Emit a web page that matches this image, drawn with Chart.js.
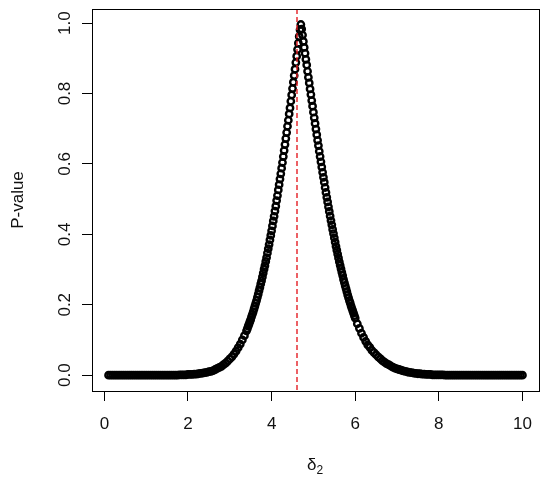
<!DOCTYPE html>
<html>
<head>
  <title>P-value vs delta 2</title>
  <script src="https://cdn.jsdelivr.net/npm/chart.js@4.4.2/dist/chart.umd.min.js"></script>
  <style>
    body { margin: 0; background: #fff; }
    canvas { display: block; }
  </style>
</head>
<body>
<canvas id="pChart" width="550" height="486"></canvas>
<script>
// delta_2 grid and the p-value at each point
const deltaValues = [
  0.10,0.15,0.20,0.25,0.30,0.35,0.40,0.45,0.50,0.55,
  0.60,0.65,0.70,0.75,0.80,0.85,0.90,0.95,1.00,1.05,
  1.10,1.15,1.20,1.25,1.30,1.35,1.40,1.45,1.50,1.55,
  1.60,1.65,1.70,1.75,1.80,1.85,1.90,1.95,2.00,2.05,
  2.10,2.15,2.20,2.25,2.30,2.35,2.40,2.45,2.50,2.55,
  2.60,2.65,2.70,2.75,2.80,2.85,2.90,2.95,3.00,3.05,
  3.10,3.15,3.20,3.25,3.30,3.35,
  3.40,3.42,3.44,3.46,3.48,3.50,3.52,3.54,3.56,3.58,
  3.60,3.62,3.64,3.66,3.68,3.70,3.72,3.74,3.76,3.78,
  3.80,3.82,3.84,3.86,3.88,3.90,3.92,3.94,3.96,3.98,
  4.00,4.02,4.04,4.06,4.08,4.10,4.12,4.14,4.16,4.18,
  4.20,4.22,4.24,4.26,4.28,4.30,4.32,4.34,4.36,4.38,
  4.40,4.42,4.44,4.46,4.48,4.50,4.52,4.54,4.56,4.58,
  4.60,4.62,4.64,4.66,4.68,4.70,4.72,4.74,4.76,4.78,
  4.80,4.82,4.84,4.86,4.88,4.90,4.92,4.94,4.96,4.98,
  5.00,5.02,5.04,5.06,5.08,5.10,5.12,5.14,5.16,5.18,
  5.20,5.22,5.24,5.26,5.28,5.30,5.32,5.34,5.36,5.38,
  5.40,5.42,5.44,5.46,5.48,5.50,5.52,5.54,5.56,5.58,
  5.60,5.62,5.64,5.66,5.68,5.70,5.72,5.74,5.76,5.78,
  5.80,5.82,5.84,5.86,5.88,5.90,5.92,5.94,5.96,5.98,
  6.00,
  6.05,6.10,6.15,6.20,6.25,6.30,6.35,6.40,6.45,6.50,
  6.55,6.60,6.65,6.70,6.75,6.80,6.85,6.90,6.95,7.00,
  7.05,7.10,7.15,7.20,7.25,7.30,7.35,7.40,7.45,7.50,
  7.55,7.60,7.65,7.70,7.75,7.80,7.85,7.90,7.95,8.00,
  8.05,8.10,8.15,8.20,8.25,8.30,8.35,8.40,8.45,8.50,
  8.55,8.60,8.65,8.70,8.75,8.80,8.85,8.90,8.95,9.00,
  9.05,9.10,9.15,9.20,9.25,9.30,9.35,9.40,9.45,9.50,
  9.55,9.60,9.65,9.70,9.75,9.80,9.85,9.90,9.95,10.00
];
const pValues = [
  0,0,0,0,0,0,0,0,0,0,
  0,0,0,0,0,0,0,0,0,0,
  0,0,0,0,0,0,0,0,0,0,
  0,0,0,0,0.001,0.001,0.001,0.001,0.002,0.002,
  0.002,0.003,0.003,0.004,0.005,0.006,0.007,0.008,0.010,0.011,
  0.013,0.016,0.019,0.022,0.025,0.030,0.034,0.040,0.046,0.052,
  0.060,0.068,0.078,0.088,0.100,0.112,
  0.126,0.132,0.139,0.145,0.152,0.158,0.166,0.173,0.180,0.188,
  0.196,0.204,0.212,0.221,0.230,0.240,0.249,0.259,0.268,0.279,
  0.290,0.301,0.311,0.323,0.334,0.347,0.359,0.371,0.384,0.397,
  0.410,0.424,0.438,0.451,0.466,0.480,0.496,0.510,0.526,0.541,
  0.557,0.572,0.588,0.604,0.621,0.638,0.655,0.672,0.689,0.707,
  0.724,0.742,0.759,0.778,0.796,0.814,0.832,0.851,0.869,0.888,
  0.906,0.925,0.943,0.962,0.981,0.996,0.983,0.966,0.948,0.931,
  0.914,0.897,0.881,0.863,0.846,0.830,0.813,0.797,0.780,0.764,
  0.747,0.731,0.715,0.699,0.683,0.667,0.652,0.636,0.621,0.606,
  0.591,0.576,0.562,0.548,0.533,0.519,0.505,0.492,0.478,0.465,
  0.452,0.439,0.427,0.414,0.402,0.390,0.378,0.366,0.355,0.344,
  0.333,0.322,0.312,0.302,0.292,0.283,0.272,0.263,0.254,0.246,
  0.237,0.228,0.220,0.212,0.205,0.197,0.190,0.183,0.176,0.169,
  0.162,
  0.146,0.133,0.119,0.107,0.096,0.086,0.079,0.070,0.064,0.058,
  0.052,0.047,0.041,0.037,0.033,0.030,0.026,0.023,0.020,0.018,
  0.016,0.014,0.012,0.011,0.009,0.008,0.007,0.006,0.005,0.004,
  0.004,0.003,0.003,0.002,0.002,0.002,0.001,0.001,0.001,0.001,
  0.001,0.001,0,0,0,0,0,0,0,0,
  0,0,0,0,0,0,0,0,0,0,
  0,0,0,0,0,0,0,0,0,0,
  0,0,0,0,0,0,0,0,0,0
];
const refLine = 4.61;   // red dashed vertical line
const xTicks = [0, 2, 4, 6, 8, 10];
const yTicks = [0, 0.2, 0.4, 0.6, 0.8, 1.0];
const yTickLabels = ['0.0', '0.2', '0.4', '0.6', '0.8', '1.0'];

const FONT = '17px "Liberation Sans", Arial, sans-serif';

const points = deltaValues.map((d, i) => ({ x: d, y: pValues[i] }));

// R-style decorations: box, dashed line, tick labels, axis titles
const rStyle = {
  id: 'rStyle',
  afterDatasetsDraw(chart) {
    const ctx = chart.ctx;
    const a = chart.chartArea;
    const xs = chart.scales.x;
    const ys = chart.scales.y;
    ctx.save();
    // reference line
    const rx = Math.round(xs.getPixelForValue(refLine));
    ctx.strokeStyle = 'rgb(228, 30, 36)';
    ctx.lineWidth = 1.4;
    ctx.setLineDash([5, 3]);
    ctx.beginPath();
    ctx.moveTo(rx, a.top);
    ctx.lineTo(rx, a.bottom);
    ctx.stroke();
    ctx.setLineDash([]);
    // box
    ctx.strokeStyle = '#000';
    ctx.lineWidth = 1;
    ctx.strokeRect(Math.round(a.left) + 0.5, Math.round(a.top) + 0.5,
      Math.round(a.right - a.left), Math.round(a.bottom - a.top));
    // tick labels
    ctx.fillStyle = '#111';
    ctx.font = FONT;
    ctx.textAlign = 'center';
    ctx.textBaseline = 'middle';
    xTicks.forEach(v => {
      ctx.fillText(String(v), xs.getPixelForValue(v), a.bottom + 33);
    });
    yTicks.forEach((v, i) => {
      ctx.save();
      ctx.translate(a.left - 27, ys.getPixelForValue(v));
      ctx.rotate(-Math.PI / 2);
      ctx.fillText(yTickLabels[i], 0, 0);
      ctx.restore();
    });
    // x title: delta with subscript 2
    const cx = (a.left + a.right) / 2;
    ctx.textBaseline = 'alphabetic';
    ctx.textAlign = 'right';
    ctx.fillText('\u03b4', cx + 1, a.bottom + 79);
    ctx.font = '12px "Liberation Sans", Arial, sans-serif';
    ctx.textAlign = 'left';
    ctx.fillText('2', cx + 1, a.bottom + 83);
    // y title
    ctx.font = FONT;
    ctx.textAlign = 'center';
    ctx.textBaseline = 'middle';
    ctx.save();
    ctx.translate(18, (a.top + a.bottom) / 2);
    ctx.rotate(-Math.PI / 2);
    ctx.fillText('P-value', 0, 0);
    ctx.restore();
    ctx.restore();
  }
};

const ctx = document.getElementById('pChart').getContext('2d');
const chart = new Chart(ctx, {
  type: 'scatter',
  data: {
    datasets: [{
      data: points,
      pointStyle: 'circle',
      pointRadius: 3.2,
      pointHoverRadius: 3.2,
      borderColor: '#000',
      backgroundColor: 'rgba(0,0,0,0)',
      borderWidth: 2.4,
      showLine: false
    }]
  },
  options: {
    responsive: false,
    animation: false,
    devicePixelRatio: 1,
    events: [],
    layout: { padding: { left: 0, right: 11, top: 9, bottom: 0 } },
    plugins: { legend: { display: false }, tooltip: { enabled: false } },
    scales: {
      x: {
        type: 'linear',
        min: -0.296,
        max: 10.396,
        afterBuildTicks: s => { s.ticks = xTicks.map(v => ({ value: v })); },
        afterFit: s => { s.height = 95; },
        ticks: { display: false },
        grid: { drawOnChartArea: false, drawTicks: true, tickLength: 10, color: '#000' },
        border: { display: false }
      },
      y: {
        type: 'linear',
        min: -0.045,
        max: 1.04,
        afterBuildTicks: s => { s.ticks = yTicks.map(v => ({ value: v })); },
        afterFit: s => { s.width = 92; },
        ticks: { display: false },
        grid: { drawOnChartArea: false, drawTicks: true, tickLength: 10, color: '#000' },
        border: { display: false }
      }
    }
  },
  plugins: [rStyle]
});
</script>
</body>
</html>
